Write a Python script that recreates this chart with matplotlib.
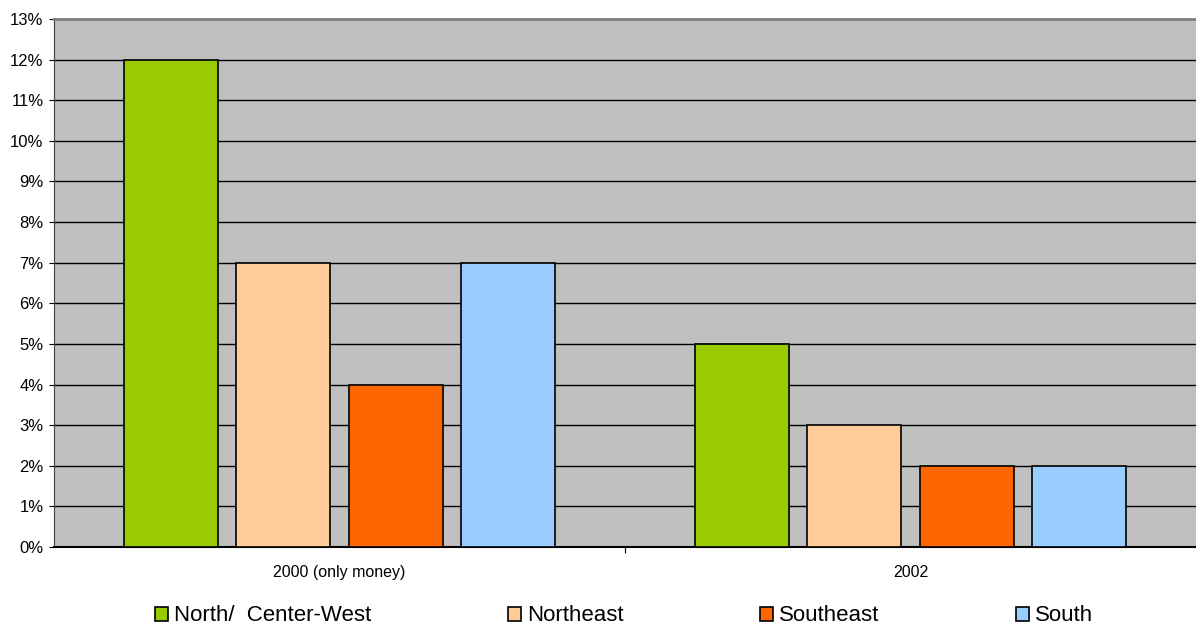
import numpy as np
import matplotlib.pyplot as plt
from matplotlib.ticker import FuncFormatter

plt.rcParams['font.family'] = ['Liberation Sans', 'DejaVu Sans']

# shares by region for each year
years = ["2000 (only money)", "2002"]
regions = ["North/  Center-West", "Northeast", "Southeast", "South"]
north_cw = [12, 5]
northeast = [7, 3]
southeast = [4, 2]
south = [7, 2]
colors = ["#99CC00", "#FFCC99", "#FF6600", "#99CCFF"]

series = [north_cw, northeast, southeast, south]

fig = plt.figure(figsize=(11.96, 6.26), dpi=100)
ax = fig.add_axes([54 / 1196, 1 - 547 / 626, 1 - 54 / 1196, (547 - 19) / 626])
ax.set_facecolor("#C0C0C0")

x = np.arange(len(years))
step = 0.197
width = 0.165
offsets = (np.arange(len(series)) - 1.5) * step
for vals, off, col, name in zip(series, offsets, colors, regions):
    ax.bar(x + off, vals, width, color=col, edgecolor="black", linewidth=1.2,
           label=name, zorder=3)

ax.set_ylim(0, 13)
ax.set_xlim(-0.5, 1.5)
ax.set_yticks(range(0, 14))
ax.yaxis.set_major_formatter(FuncFormatter(lambda v, p: f"{int(v)}%"))
ax.yaxis.grid(True, color="black", linewidth=1, zorder=1)
ax.set_axisbelow(True)

# category labels sit between the tick marks
ax.set_xticks([0.5])
ax.set_xticklabels([""])
ax.set_xticks(x, minor=True)
ax.set_xticklabels(years, minor=True, fontsize=11.5)
ax.tick_params(axis="x", which="minor", length=0, pad=13)
ax.tick_params(axis="x", which="major", length=4, width=0.8, direction="out")
ax.tick_params(axis="y", length=3.6, width=0.8, labelsize=12, pad=4)

ax.spines["top"].set_color("#808080")
ax.spines["top"].set_linewidth(2)
ax.spines["right"].set_visible(False)
ax.spines["left"].set_color("#404040")
ax.spines["bottom"].set_color("black")
ax.spines["bottom"].set_linewidth(1.5)

fig.legend(loc="center", bbox_to_anchor=(0.5217, 0.016), ncol=4, frameon=False,
           fontsize=16, handlelength=0.6, handleheight=0.6,
           handletextpad=0.25, columnspacing=6.15, borderpad=0)

fig.savefig("out.png", dpi=100)
